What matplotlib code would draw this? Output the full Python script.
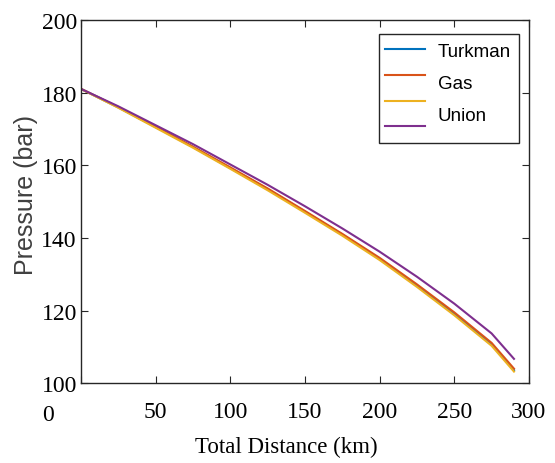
#%%
# Pressure drop along the pipeline for the different gas compositions
import numpy as np
import matplotlib.pyplot as plt
from matplotlib.lines import Line2D

# Values (distance in km, pressure in bar)
distance = [0, 25, 50, 75, 100, 125, 150, 175, 200, 225, 250, 275, 290]
turkman = [181.0, 175.9, 170.5, 165.0, 159.2, 153.4, 147.2, 140.9, 134.2, 126.9, 119.1, 110.7, 103.6]
gas = [181.0, 176.0, 170.6, 165.1, 159.4, 153.6, 147.4, 141.1, 134.5, 127.2, 119.5, 111.1, 104.0]
union_y = [181.0, 175.8, 170.3, 164.8, 159.0, 153.1, 146.9, 140.6, 133.9, 126.5, 118.7, 110.3, 103.2]
union_p = [181.0, 176.2, 171.0, 165.8, 160.2, 154.6, 148.7, 142.6, 136.2, 129.3, 121.9, 113.7, 106.7]

labels = ['Turkman', 'Gas', 'Union']
colors = ['#0072BD', '#D95319', '#EDB120', '#7E2F8E']

xticks = [0, 50, 100, 150, 200, 250, 300]
yticks = [100, 120, 140, 160, 180, 200]

fig = plt.figure(figsize=(5.55, 4.64), dpi=100)
ax = fig.add_axes([0.146, 0.172, 0.807, 0.783])

series = [turkman, gas, union_y, union_p]
for s, c in zip(series, colors):
    ax.plot(distance, s, color=c, linewidth=1.5)

ax.set_xlim(0, 300)
ax.set_ylim(100, 200)
ax.set_xticks(xticks)
ax.set_xticklabels([''] + [str(t) for t in xticks[1:]])
ax.set_yticks(yticks)

for sp in ax.spines.values():
    sp.set_color('#262626')
    sp.set_linewidth(1.0)
ax.tick_params(direction='in', top=True, right=True, length=5, width=0.8,
               color='#262626', labelsize=17, labelcolor='black')
ax.tick_params(axis='x', pad=13)
ax.tick_params(axis='y', pad=3)
for lab in ax.get_xticklabels() + ax.get_yticklabels():
    lab.set_family('Liberation Serif')

# the "0" of the x axis sits left of the frame in the original
ax.annotate('0', xy=(0, 0), xycoords='axes fraction', xytext=(-33, -31),
            textcoords='offset pixels', ha='center', va='center',
            fontsize=17, family='Liberation Serif')

ax.set_xlabel('Total Distance (km)', fontsize=16.5, family='Liberation Serif')
ax.xaxis.set_label_coords(0.458, -0.145)
ax.set_ylabel('Pressure (bar)', fontsize=18, family='Liberation Sans', color='#404040')
ax.yaxis.set_label_coords(-0.095, 0.52)

# Legend: four line samples, three labels
handles = [Line2D([0], [0], color=c, linewidth=1.5) for c in colors]
leg = ax.legend(handles, ['Turkman', 'Gas', 'Union', 'Union'],
                loc='upper left', bbox_to_anchor=(0.665, 0.678, 0.313, 0.283),
                mode='expand', fontsize=13.5, labelspacing=0.36, handlelength=2.1,
                borderpad=0.35, borderaxespad=0, handletextpad=0.9, fancybox=False,
                edgecolor='#262626', framealpha=1)
leg.get_frame().set_linewidth(1.0)
for t in leg.get_texts():
    t.set_alpha(0)
for lab, yy in zip(labels, [0.912, 0.824, 0.736]):
    ax.text(0.797, yy, lab, transform=ax.transAxes, fontsize=13.5,
            family='Liberation Sans', va='center', ha='left', zorder=10)

plt.savefig('out.png', dpi=100)
